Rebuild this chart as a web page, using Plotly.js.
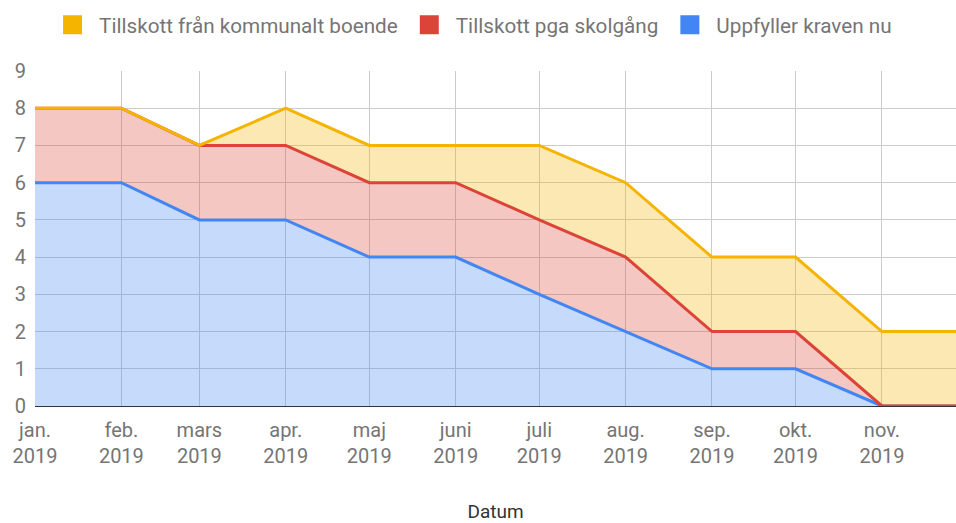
<!DOCTYPE html>
<html>
<head>
<meta charset="utf-8">
<script src="https://cdn.plot.ly/plotly-3.0.1.min.js"></script>
<style>html,body{margin:0;padding:0;background:#fff;}#chart{width:956px;height:523px;}</style>
</head>
<body>
<div id="chart"></div>
<script>
// Data
const months = ['2019-01-01','2019-02-01','2019-03-01','2019-04-01','2019-05-01','2019-06-01','2019-07-01','2019-08-01','2019-09-01','2019-10-01','2019-11-01','2019-12-01'];
const uppfyller = [6,6,5,5,4,4,3,2,1,1,0,0];
const skolgang  = [2,2,2,2,2,2,2,2,1,1,0,0];
const boende    = [0,0,0,1,1,1,2,2,2,2,2,2];
const seriesNames = ['Uppfyller kraven nu','Tillskott pga skolgång','Tillskott från kommunalt boende'];
const tickVals = months.slice(0, 11);
const tickText = ['jan.<br>2019','feb.<br>2019','mars<br>2019','apr.<br>2019','maj<br>2019','juni<br>2019','juli<br>2019','aug.<br>2019','sep.<br>2019','okt.<br>2019','nov.<br>2019'];

const colors = ['#4285F4','#DB4437','#F4B400'];
const fills = ['rgba(66,133,244,0.3)','rgba(219,68,55,0.3)','rgba(244,180,0,0.3)'];
const vals = [uppfyller, skolgang, boende];

const traces = [];
for (let i = 0; i < 3; i++) {
  traces.push({
    type: 'scatter', mode: 'lines', x: months, y: vals[i],
    stackgroup: 'one', name: seriesNames[i],
    line: {color: colors[i], width: 3}, fillcolor: fills[i],
    showlegend: false, hoverinfo: 'x+y+name'
  });
}
// legend entries (order: yellow, red, blue)
for (let i = 2; i >= 0; i--) {
  traces.push({
    type: 'scatter', mode: 'markers', x: [null], y: [null],
    name: seriesNames[i],
    marker: {symbol: 'square', size: 16, color: colors[i], line: {color: colors[i], width: 3}},
    showlegend: true
  });
}

const font = {family: 'Roboto, sans-serif', size: 20, color: '#757575'};
const layout = {
  width: 956, height: 523,
  margin: {l: 35, r: 0, t: 71, b: 117},
  paper_bgcolor: '#fff', plot_bgcolor: '#fff',
  font: font,
  showlegend: true,
  legend: {orientation: 'h', x: 0.474, xanchor: 'center', y: 0.991, yanchor: 'top', yref: 'container',
           itemwidth: 43, traceorder: 'normal',
           font: {family: 'Roboto, sans-serif', size: 20.7, color: '#757575'}},
  xaxis: {
    type: 'date', range: ['2019-01-01', '2019-11-27 14:00'],
    tickmode: 'array', tickvals: tickVals, ticktext: tickText,
    showgrid: true, gridcolor: '#cccccc', gridwidth: 1,
    showline: false, ticks: '', zeroline: false,
    tickfont: font, ticklabelstandoff: 10,
    title: {text: 'Datum', font: {family: 'Roboto, sans-serif', size: 19, color: '#333333'}, standoff: 42},
    automargin: false
  },
  yaxis: {
    range: [0, 9], dtick: 1, tick0: 0,
    showgrid: true, gridcolor: '#cccccc', gridwidth: 1,
    zeroline: true, zerolinecolor: '#333333', zerolinewidth: 1,
    showline: false, ticks: '', tickfont: font, ticklabelstandoff: 8, automargin: false
  }
};
Plotly.newPlot('chart', traces, layout, {displayModeBar: false, staticPlot: true});
</script>
</body>
</html>
